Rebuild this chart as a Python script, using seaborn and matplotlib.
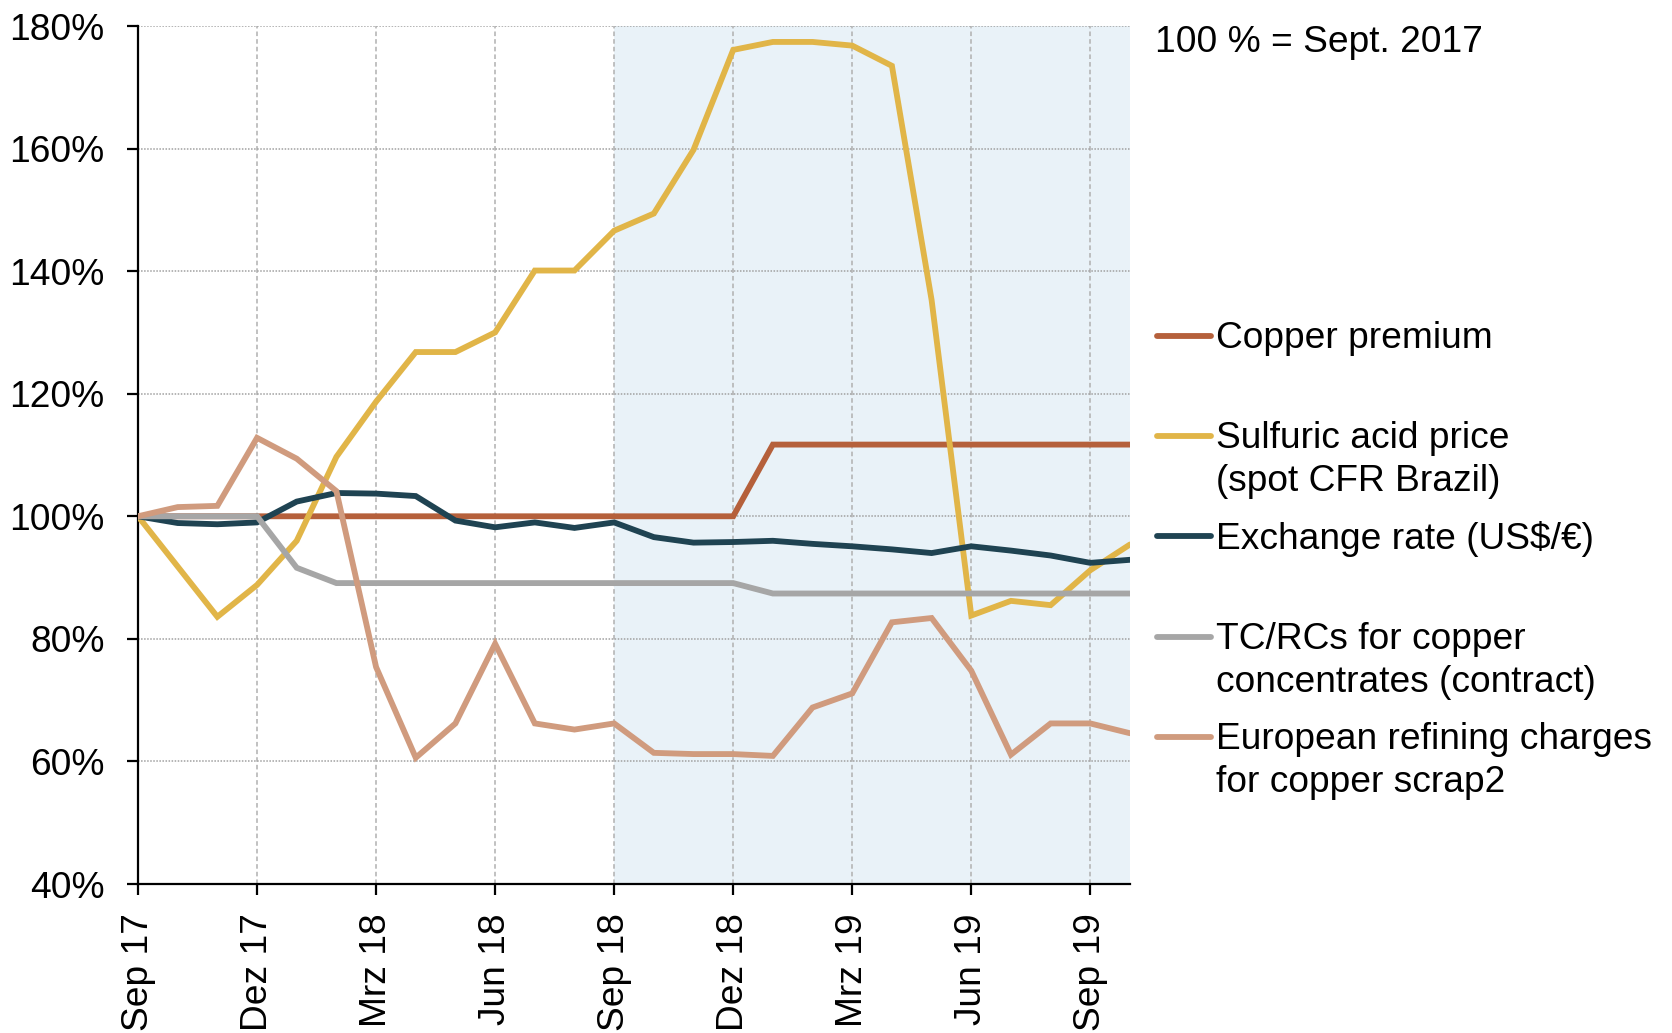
import numpy as np
import pandas as pd
import matplotlib
matplotlib.use("Agg")
import matplotlib.pyplot as plt
from matplotlib.lines import Line2D
import seaborn as sns

# ---- data (index, 100 % = Sept. 2017), monthly Sep 17 .. Oct 19 ----
months = ["Sep 17", "Okt 17", "Nov 17", "Dez 17", "Jan 18", "Feb 18", "Mrz 18", "Apr 18",
          "Mai 18", "Jun 18", "Jul 18", "Aug 18", "Sep 18", "Okt 18", "Nov 18", "Dez 18",
          "Jan 19", "Feb 19", "Mrz 19", "Apr 19", "Mai 19", "Jun 19", "Jul 19", "Aug 19",
          "Sep 19", "Okt 19"]

copper_premium = [100, 100, 100, 100, 100, 100, 100, 100, 100, 100, 100, 100, 100,
                  100, 100, 100, 111.7, 111.7, 111.7, 111.7, 111.7, 111.7, 111.7,
                  111.7, 111.7, 111.7]
sulfuric_acid = [100, 91.8, 83.6, 88.8, 96.0, 109.7, 118.7, 126.8, 126.8, 130.0, 140.1,
                 140.1, 146.6, 149.4, 159.8, 176.1, 177.4, 177.4, 176.8, 173.5, 135.3,
                 83.8, 86.2, 85.5, 91.2, 95.4]
exchange_rate = [100, 98.9, 98.7, 99.0, 102.4, 103.8, 103.7, 103.3, 99.3, 98.2, 99.0,
                 98.1, 99.0, 96.6, 95.7, 95.8, 96.0, 95.5, 95.1, 94.6, 94.0, 95.1, 94.4,
                 93.6, 92.4, 92.9]
tc_rcs = [100, 100, 100, 100, 91.6, 89.1, 89.1, 89.1, 89.1, 89.1, 89.1, 89.1, 89.1,
          89.1, 89.1, 89.1, 87.4, 87.4, 87.4, 87.4, 87.4, 87.4, 87.4, 87.4, 87.4, 87.4]
euro_refining = [100, 101.5, 101.7, 112.8, 109.4, 104.1, 75.4, 60.6, 66.2, 79.2, 66.2,
                 65.2, 66.2, 61.4, 61.2, 61.2, 60.9, 68.8, 71.1, 82.7, 83.4, 74.8, 61.1,
                 66.2, 66.2, 64.6]

series_names = ["Copper premium", "Sulfuric acid price\n(spot CFR Brazil)",
                "Exchange rate (US$/€)", "TC/RCs for copper\nconcentrates (contract)",
                "European refining charges\nfor copper scrap2"]
series_values = [copper_premium, sulfuric_acid, exchange_rate, tc_rcs, euro_refining]
colors = ["#b5603b", "#e1b548", "#1f4352", "#a6a6a6", "#d09b7e"]

tick_idx = [0, 3, 6, 9, 12, 15, 18, 21, 24]
y_ticks = [40, 60, 80, 100, 120, 140, 160, 180]
shade_from = 12  # Sep 18

# ---- build long table ----
rows = []
for name, vals in zip(series_names, series_values):
    for i, v in enumerate(vals):
        rows.append({"month": i, "value": v, "series": name})
df = pd.DataFrame(rows)

sns.set_theme(style="white")
plt.rcParams["font.family"] = ["Liberation Sans", "DejaVu Sans"]
FS = 26.7
LW = 4.2

fig = plt.figure(figsize=(16.72, 10.33), dpi=100)
ax = fig.add_axes([138 / 1672, 1 - 884 / 1033, (1130 - 138) / 1672, (884 - 26) / 1033])

ax.axvspan(shade_from, len(months) - 1, color="#e9f2f8", zorder=0, lw=0)

sns.lineplot(data=df, x="month", y="value", hue="series", hue_order=series_names,
             palette=colors, linewidth=LW, ax=ax, legend=False, zorder=3,
             solid_capstyle="round", solid_joinstyle="miter")

ax.set_xlim(0, len(months) - 1)
ax.set_ylim(40, 180)
ax.set_xticks(tick_idx)
ax.set_xticklabels([months[i] for i in tick_idx], rotation=90, fontsize=FS)
ax.set_yticks(y_ticks)
ax.set_yticklabels([f"{v}%" for v in y_ticks], fontsize=FS)
ax.set_xlabel("")
ax.set_ylabel("")

ax.set_axisbelow(True)
ax.yaxis.grid(True, linestyle=(0, (1, 1)), color="#a0a0a0", linewidth=1.1)
ax.xaxis.grid(True, linestyle=(0, (3, 2)), color="#b0b0b0", linewidth=1.1)

for s in ["top", "right"]:
    ax.spines[s].set_visible(False)
for s in ["left", "bottom"]:
    ax.spines[s].set_color("black")
    ax.spines[s].set_linewidth(1.6)

ax.tick_params(axis="y", which="major", direction="out", length=8, width=1.6,
               color="black", pad=16, left=True)
ax.tick_params(axis="x", which="major", direction="out", length=8, width=1.6,
               color="black", pad=13, bottom=True)
for lab in ax.get_xticklabels() + ax.get_yticklabels():
    lab.set_color("black")

# ---- annotation and manual legend ----
fig.text(1155 / 1672, 1 - 43 / 1033, "100 % = Sept. 2017", fontsize=FS,
         va="center", ha="left", color="black")

handle_y = [335.7, 436, 536.3, 636.7, 736.7]
line_gap = 42.5
for name, col, yy in zip(series_names, colors, handle_y):
    fy = 1 - yy / 1033
    fig.add_artist(Line2D([1157 / 1672, 1211 / 1672], [fy, fy], color=col,
                          linewidth=LW, solid_capstyle="round",
                          transform=fig.transFigure))
    for k, part in enumerate(name.split("\n")):
        fig.text(1216 / 1672, 1 - (yy + 3 + k * line_gap) / 1033, part, fontsize=FS,
                 va="center", ha="left", color="black")

fig.savefig("out.png", dpi=100)
